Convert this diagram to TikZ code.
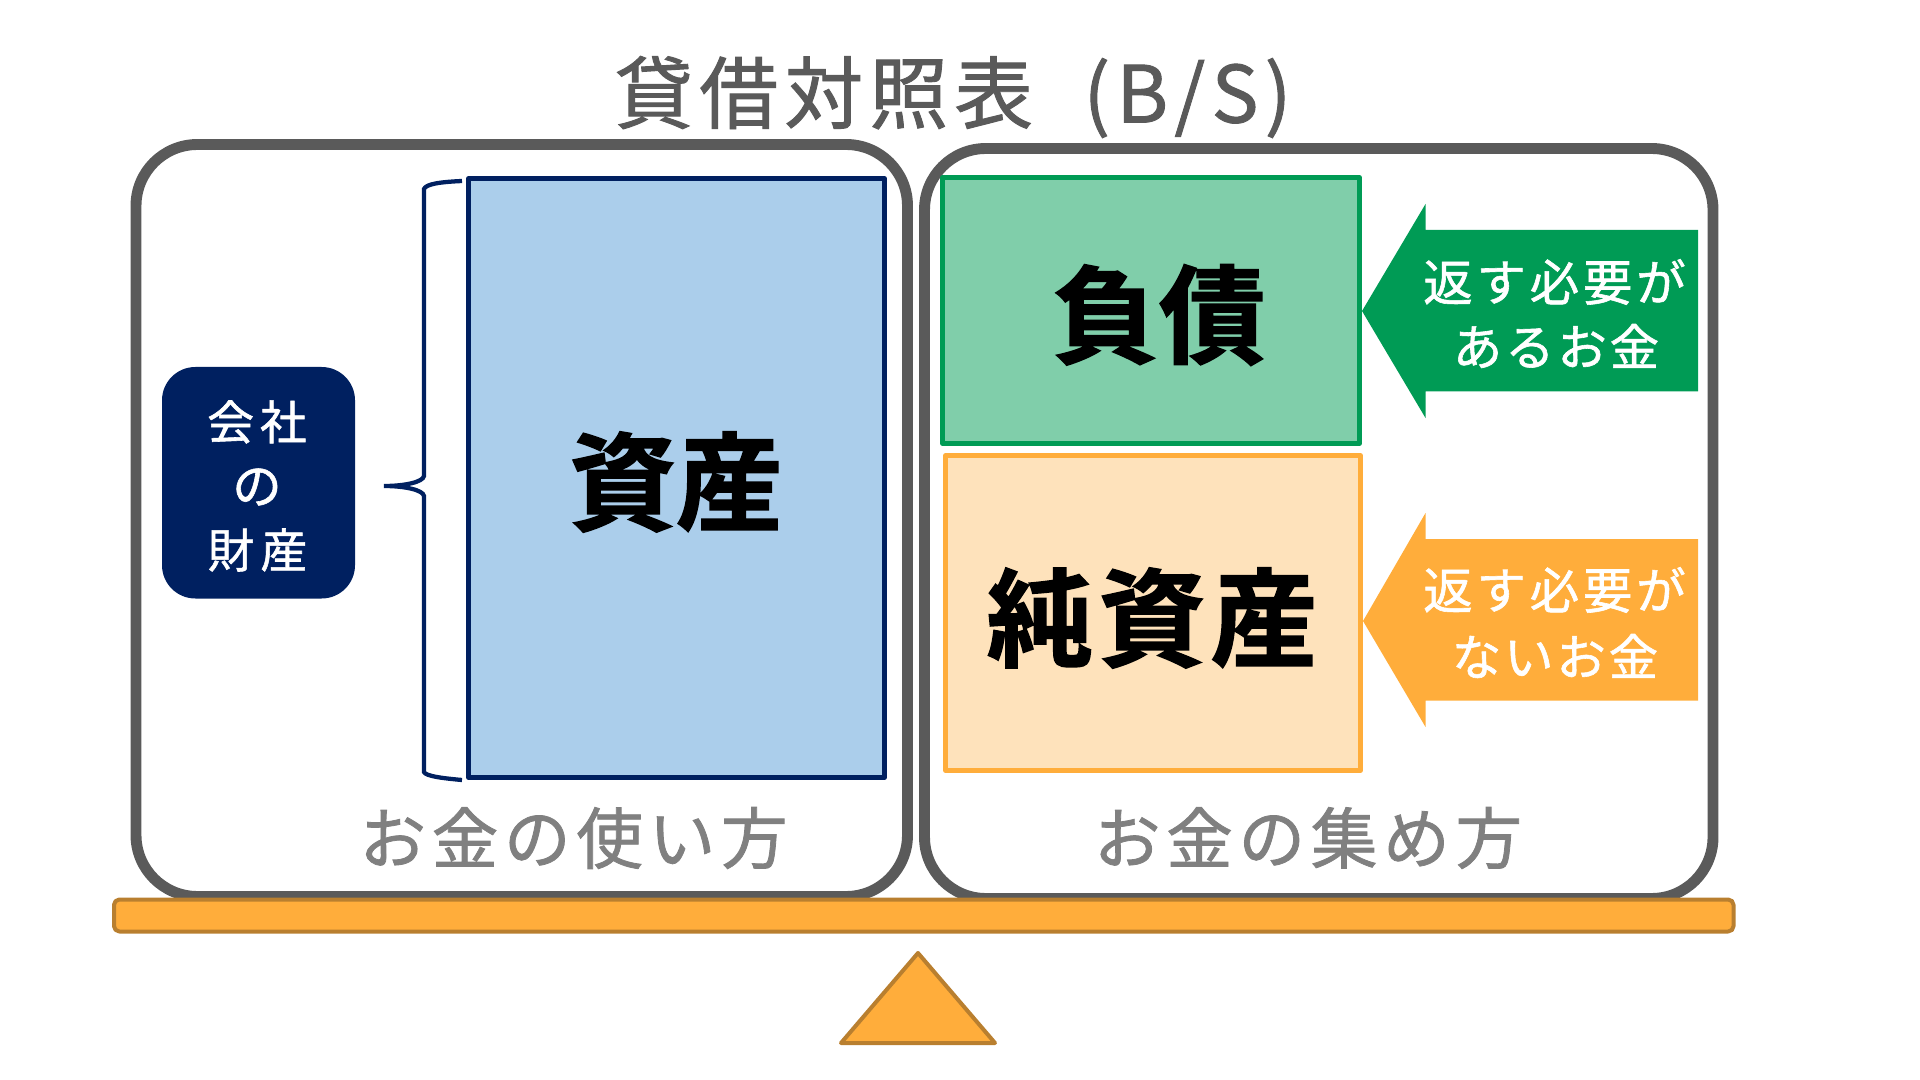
\documentclass[tikz,border=0pt]{standalone}
\usepackage{fontspec}
\newfontfamily\cjkreg{Noto Sans CJK JP}
\newfontfamily\cjkbold{Noto Sans CJK JP Bold}
\newcommand{\lblreg}[2]{\cjkreg\fontsize{#1}{#1}\selectfont\addfontfeature{LetterSpace=#2,FakeBold=1.2}}
\newcommand{\lblheavy}[2]{\cjkbold\fontsize{#1}{#1}\selectfont\addfontfeature{LetterSpace=#2,FakeBold=1.5}}
\definecolor{framegray}{HTML}{5A5A5A}
\definecolor{labelgray}{HTML}{808080}
\definecolor{navy}{HTML}{002060}
\definecolor{bluefill}{HTML}{ABCEEB}
\definecolor{greenline}{HTML}{009B55}
\definecolor{greenfill}{HTML}{80CEAA}
\definecolor{orangeline}{HTML}{FFAD3B}
\definecolor{orangefill}{HTML}{FEE2BB}
\definecolor{beamline}{HTML}{B97F2F}
\tikzset{
  frame/.style={draw=framegray,line width=8.2pt,rounded corners=46pt},
  panel/.style={line width=3.6pt,line join=round},
  beam/.style={draw=beamline,fill=orangeline,line width=3pt,line join=round},
  txt/.style={inner sep=0pt,outer sep=0pt,anchor=center},
}
\begin{document}
\begin{tikzpicture}[x=0.75pt,y=-0.75pt]
\useasboundingbox (0,0) rectangle (1920,1080);
% frames
\draw[frame] (136,144.5) rectangle (907.5,896.5);
\draw[frame] (924.5,148.5) rectangle (1713,898.5);
% panels
\draw[panel,draw=navy,fill=bluefill] (468.5,178.5) rectangle (884.5,777.5);
\draw[panel,draw=greenline,fill=greenfill] (942.5,177.5) rectangle (1359.5,443.5);
\draw[panel,draw=orangeline,fill=orangefill] (945.5,455.5) rectangle (1360.5,770.5);
% brace
\draw[navy,line width=3.2pt] (462,181) .. controls (440,182) and (426,184) .. (424,189)
  -- (424,476) .. controls (423,482) and (405,486) .. (384,486)
  .. controls (405,486) and (423,490) .. (424,496)
  -- (424,772) .. controls (426,776) and (440,778) .. (462,780);
% company box
\fill[navy,rounded corners=25pt] (162,367) rectangle (355,598.5);
% arrows
\fill[greenline] (1362,311) -- (1425.5,204) -- (1425.5,230) -- (1698,230) -- (1698,391.5) -- (1425.5,391.5) -- (1425.5,418) -- cycle;
\fill[orangeline] (1363,621) -- (1425.5,513) -- (1425.5,539) -- (1698,539) -- (1698,700.5) -- (1425.5,700.5) -- (1425.5,727) -- cycle;
% beam and fulcrum
\draw[beam,rounded corners=4pt] (114,899.5) rectangle (1733.5,931.5);
\draw[beam] (918,953) -- (995,1043) -- (841,1043) -- cycle;
% texts
\node[txt,text=framegray] (title) at (953,97) {\lblreg{59pt}{8}貸借対照表\hspace{20pt} (B/S)};
\node[txt] (assets) at (676,482) {\lblheavy{80pt}{0}資産};
\node[txt] (debt) at (1159,315) {\lblheavy{80pt}{0}負債};
\node[txt] (equity) at (1152,618) {\lblheavy{80pt}{5}純資産};
\node[txt,text=white] (arrowa1) at (1554.5,282) {\lblreg{37pt}{8}返す必要が};
\node[txt,text=white] (arrowa2) at (1556,346) {\lblreg{37pt}{6}あるお金};
\node[txt,text=white] (arrowb1) at (1554.5,590) {\lblreg{37pt}{8}返す必要が};
\node[txt,text=white] (arrowb2) at (1555,656) {\lblreg{37pt}{6}ないお金};
\node[txt,text=white] (co1) at (257,422) {\lblreg{35pt}{13}会社};
\node[txt,text=white] (co2) at (257,487) {\lblreg{37pt}{0}の};
\node[txt,text=white] (co3) at (257.5,550) {\lblreg{35pt}{13}財産};
\node[txt,text=labelgray] (use) at (573.5,838) {\lblreg{50pt}{8.5}お金の使い方};
\node[txt,text=labelgray] (raise) at (1308,838) {\lblreg{50pt}{8.5}お金の集め方};
\end{tikzpicture}
\end{document}
